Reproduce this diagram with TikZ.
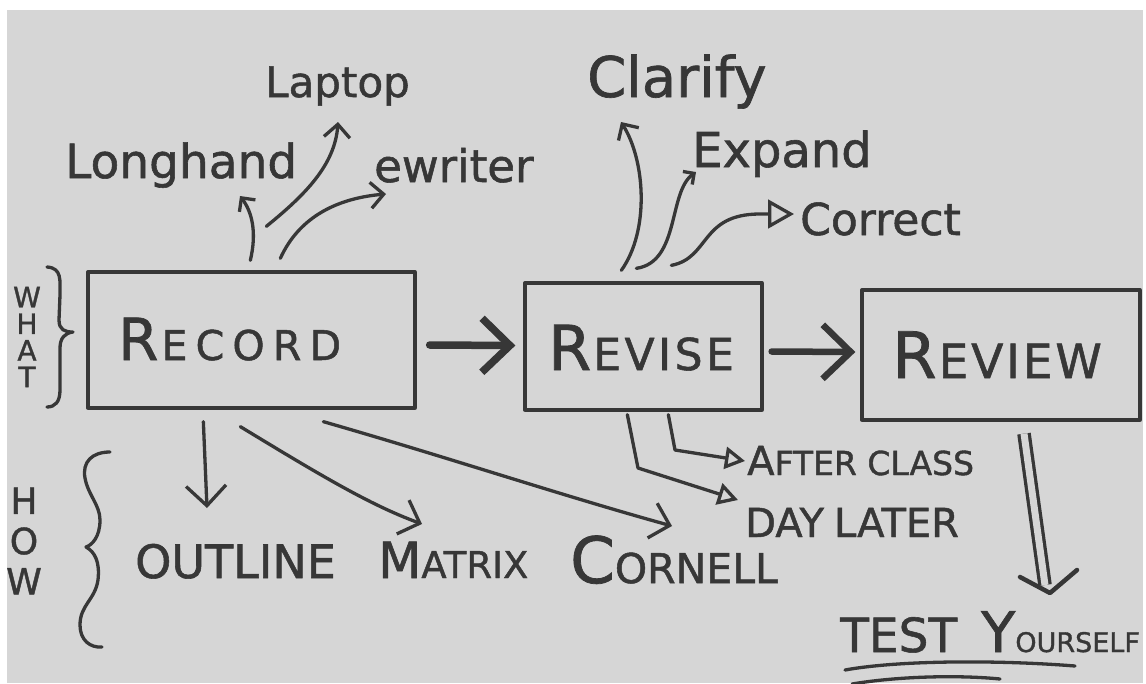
\documentclass[tikz,border=0pt]{standalone}
\usepackage{fontspec}
\setmainfont{DejaVu Sans}[FakeBold=1.2]
\usetikzlibrary{arrows.meta,calc}
\definecolor{paper}{RGB}{214,214,214}
\definecolor{ink}{RGB}{55,55,55}
\newcommand\fz[1]{\fontsize{#1}{#1}\selectfont}
\newcommand\ls[1]{\addfontfeature{LetterSpace=#1}}
\begin{document}
\begin{tikzpicture}[x=1pt,y=-1pt,
  pen/.style={draw=ink, line width=3.3pt, line cap=round, line join=round},
  box/.style={pen, rectangle, inner sep=0pt},
  lbl/.style={text=ink, inner sep=0pt, anchor=base west},
  barb/.style={-{Straight Barb[length=#1, width=2*#1]}},
  barb/.default=12pt,
  tri/.style={-{Triangle[open, length=#1, width=1.1*#1]}},
  tri/.default=20pt,
  fat/.style={draw=ink, line width=7.5pt, line cap=round, line join=round,
    -{Straight Barb[length=28pt, width=54pt]}}]

% paper sheet
\useasboundingbox (0,0) rectangle (1146,683);
\fill[white] (0,0) rectangle (1146,683);
\fill[paper] (7,10) rectangle (1143,683);

% the three stages
\node[box, minimum width=327, minimum height=136] (rec) at (251.5,340) {};
\node[box, minimum width=237, minimum height=127] (rvs) at (643.5,346.5) {};
\node[box, minimum width=278, minimum height=130] (rvw) at (1001,355) {};

\node[lbl] (recT) at (118,360) {\fz{58}R\kern3pt\fz{41}\ls{20}ECORD};
\node[lbl] (rvsT) at (548,370) {\fz{62}R\kern2pt\fz{44}\ls{8}EVISE};
\node[lbl] (rvwT) at (892,378) {\fz{64}R\kern2pt\fz{47}\ls{6}EVIEW};

% stage-to-stage arrows
\draw[fat] ($(rec.east)+(13,5)$) -- ($(rvs.west)+(-8,-1)$);
\draw[fat, line width=6.5pt] ($(rvs.east)+(8,5)$) -- ($(rvw.west)+(-5,-3)$);

% WHAT / HOW side notes
\node[text=ink, inner sep=0pt, align=center, font=\fz{28}\linespread{0.95}\selectfont] (what) at (27,337) {W\\H\\A\\T};
\node[text=ink, inner sep=0pt, align=center, font=\fz{36}\linespread{1.12}\selectfont] (how) at (24,541) {H\\O\\W};
\draw[pen] (47,267) .. controls (62,268) and (60,280) .. (60,295) -- (59,320)
  .. controls (59,330) and (65,332) .. (73,332)
  .. controls (65,333) and (60,338) .. (60,348) -- (60,390)
  .. controls (60,402) and (55,407) .. (47,407);
\draw[pen] (110,452) .. controls (92,452) and (82,462) .. (85,478)
  .. controls (88,495) and (100,505) .. (100,520)
  .. controls (100,537) and (92,545) .. (86,547)
  .. controls (95,552) and (100,562) .. (98,580)
  .. controls (95,600) and (80,605) .. (80,625)
  .. controls (80,640) and (90,648) .. (102,647);

% recording media
\node[lbl] (lh) at (65,178) {\fz{47}Longhand};
\node[lbl] (lap) at (265,97) {\fz{42}Laptop};
\node[lbl] (ew) at (374,182) {\fz{45}ewriter};
\coordinate (lhA) at ($(rec.north west)+(164,-10)$);
\coordinate (lapA) at ($(rec.north west)+(180,-44)$);
\coordinate (ewA) at ($(rec.north west)+(194,-12)$);
\coordinate (lhB) at (240,196);
\coordinate (lapB) at (338,122);
\coordinate (ewB) at (386,194);
\draw[pen, barb=10pt] (lhA) .. controls (257,232) and (252,212) .. (lhB);
\draw[pen, barb=13pt] (lapA) .. controls (305,195) and (335,165) .. (lapB);
\draw[pen, barb=13pt] (ewA) .. controls (300,215) and (340,198) .. (ewB);

% note-taking formats
\node[lbl] (outl) at (135,578) {\fz{46}OUTLINE};
\node[lbl] (matx) at (378,578) {\fz{50}M\fz{37}ATRIX};
\node[lbl] (corn) at (570,583) {\fz{64}C\fz{41}ORNELL};
\coordinate (o1) at ($(rec.south west)+(117,12)$);
\coordinate (m1) at ($(rec.south west)+(154,17)$);
\coordinate (c1) at ($(rec.south west)+(237,12)$);
\coordinate (o2) at (207,508);
\coordinate (m2) at (422,524);
\coordinate (c2) at (672,526);
\draw[pen, barb=20pt] (o1) -- (o2);
\draw[pen, barb=18pt] (m1) .. controls (320,475) and (370,505) .. (m2);
\draw[pen, barb=18pt] (c1) .. controls (450,458) and (560,495) .. (c2);

% revision steps
\node[lbl] (clar) at (587,97) {\fz{56}Clarify};
\node[lbl] (expd) at (692,167) {\fz{48}Expand};
\node[lbl] (corr) at (800,235) {\fz{44}Correct};
\coordinate (cl1) at ($(rvs.north west)+(98,-11)$);
\coordinate (ex1) at ($(rvs.north west)+(113,-13)$);
\coordinate (co1) at ($(rvs.north west)+(148,-16)$);
\coordinate (cl2) at (621,122);
\coordinate (ex2) at (696,172);
\coordinate (co2) at (794,214);
\draw[pen, barb=12pt] (cl1) .. controls (650,230) and (645,160) .. (cl2);
\draw[pen, barb=8pt] (ex1) .. controls (680,262) and (668,192) .. (ex2);
\draw[pen, tri=26pt] (co1) .. controls (710,258) and (700,214) .. (760,214) -- (co2);

% when to revise
\node[lbl] (aft) at (747,475) {\fz{40}A\fz{33}FTER CLASS};
\node[lbl] (day) at (745,537) {\fz{40}DAY\hspace{10pt}LATER};
\coordinate (af1) at ($(rvs.south west)+(145,3)$);
\coordinate (dy1) at ($(rvs.south west)+(104,3)$);
\coordinate (af2) at (745,461);
\coordinate (dy2) at (738,500);
\draw[pen, tri=20pt] (af1) -- (675,450) -- (af2);
\draw[pen, tri=20pt] (dy1) -- (638,468) -- (dy2);

% self test
\node[lbl] (test) at (840,652) {\fz{47}TEST\hspace{24pt}\fz{56}Y\fz{27}OURSELF};
\coordinate (t1) at ($(rvw.south)+(23,12)$);
\coordinate (t2) at (1045,585);
\coordinate (tip) at (1050,593);
\draw[pen, double=paper, double distance=7pt, line cap=butt] (t1) -- (t2);
\draw[pen, line width=4.5pt] (1020,577) -- (tip) -- (1077,570);
\draw[pen] (845,670) .. controls (900,660) and (1000,660) .. (1075,666);
\draw[pen] (852,684) .. controls (900,676) and (960,675) .. (1000,679);
\end{tikzpicture}
\end{document}
